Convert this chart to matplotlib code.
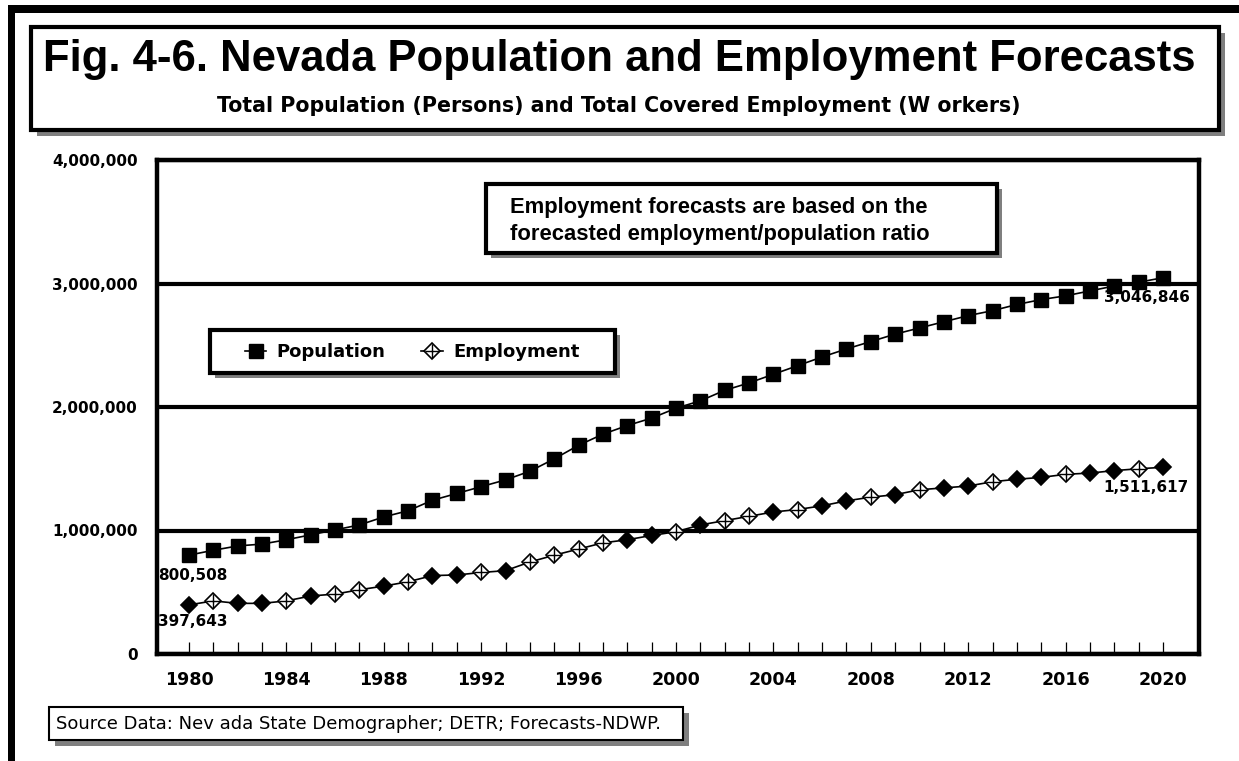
import matplotlib
matplotlib.use('Agg')
import matplotlib.pyplot as plt
from matplotlib.patches import Rectangle
from matplotlib.lines import Line2D
from matplotlib.legend_handler import HandlerTuple

W, H = 1239, 761

years = list(range(1980, 2021))
population = [800508, 840000, 875000, 890000, 925000, 965000, 1005000, 1045000,
              1110000, 1160000, 1245000, 1300000, 1355000, 1410000, 1480000,
              1580000, 1690000, 1780000, 1850000, 1910000, 1990000, 2050000,
              2135000, 2195000, 2265000, 2335000, 2405000, 2470000, 2530000,
              2590000, 2640000, 2690000, 2740000, 2780000, 2830000, 2870000,
              2900000, 2940000, 2980000, 3010000, 3046846]
employment = [397643, 430000, 410000, 410000, 430000, 470000, 485000, 520000,
              550000, 585000, 635000, 640000, 660000, 675000, 745000, 800000,
              850000, 900000, 925000, 960000, 990000, 1045000, 1080000, 1115000,
              1150000, 1170000, 1200000, 1240000, 1270000, 1290000, 1330000,
              1345000, 1360000, 1395000, 1415000, 1430000, 1455000, 1465000,
              1485000, 1500000, 1511617]
# employment markers printed solid (1) or open with a cross (0)
emp_solid = [1, 0, 1, 1, 0, 1, 0, 0, 1, 0, 1, 1, 0, 1, 0, 0, 0, 0, 1, 1, 0,
             1, 0, 0, 1, 0, 1, 1, 0, 1, 0, 1, 1, 0, 1, 1, 0, 1, 1, 0, 1]
year_labels = years[::4]
y_ticks = [0, 1000000, 2000000, 3000000, 4000000]


def fx(x):
    return x / W


def fy(y):
    return 1 - y / H


fig = plt.figure(figsize=(W / 100, H / 100), dpi=100)


def box(x0, y0, x1, y1, lw, off=6, parent=None, z=1):
    # white box with a grey drop shadow, given in pixel corners
    parent = parent or fig
    w, h = (x1 - x0) / W, (y1 - y0) / H
    sh = Rectangle((fx(x0 + off), fy(y1 + off)), w, h, transform=fig.transFigure,
                   facecolor='#7f7f7f', edgecolor='none', zorder=z, clip_on=False)
    fr = Rectangle((fx(x0), fy(y1)), w, h, transform=fig.transFigure,
                   facecolor='white', edgecolor='black', lw=lw, zorder=z + 0.1,
                   clip_on=False)
    parent.add_artist(sh)
    parent.add_artist(fr)


# black frame on top and left
fig.add_artist(Rectangle((fx(8), fy(13)), 1 - fx(8), 8 / H, transform=fig.transFigure,
                         facecolor='black', edgecolor='none'))
fig.add_artist(Rectangle((fx(8), 0), 7 / W, fy(5), transform=fig.transFigure,
                         facecolor='black', edgecolor='none'))

# title block
box(31, 27, 1219, 130, lw=3)
fig.text(fx(619), fy(71), 'Fig. 4-6. Nevada Population and Employment Forecasts',
         family='Liberation Sans', fontweight='bold', fontsize=31.4,
         ha='center', va='baseline')
fig.text(fx(619), fy(112), 'Total Population (Persons) and Total Covered Employment (W orkers)',
         fontweight='bold', fontsize=14.8, ha='center', va='baseline')

ax = fig.add_axes([fx(157), fy(654), (1199 - 157) / W, (654 - 160) / H])

ax.plot(years, population, color='black', lw=1.2, marker='s', ms=10.5,
        mfc='black', mec='black', zorder=3)
ax.plot(years, employment, color='black', lw=1.2, zorder=3)
sx = [y for y, s in zip(years, emp_solid) if s]
sy = [e for e, s in zip(employment, emp_solid) if s]
ox = [y for y, s in zip(years, emp_solid) if not s]
oy = [e for e, s in zip(employment, emp_solid) if not s]
ax.plot(sx, sy, ls='none', marker='D', ms=7.7, mfc='black', mec='black', mew=1.2, zorder=4)
ax.plot(ox, oy, ls='none', marker='D', ms=7.7, mfc='white', mec='black', mew=1.2, zorder=4)
ax.plot(ox, oy, ls='none', marker='+', ms=10, color='black', mew=1, zorder=5)

ax.set_xlim(1978.686, 2021.478)
ax.set_ylim(0, 4000000)
ax.set_xticks(year_labels)
ax.set_xticks(years, minor=True)
ax.set_xticklabels([str(y) for y in year_labels], fontweight='bold', fontsize=12.6)
ax.tick_params(axis='x', which='both', direction='in', length=8.6, width=0.9,
               color='black', pad=12)
ax.set_yticks(y_ticks)
ax.set_yticklabels(['{:,}'.format(v) for v in y_ticks], fontweight='bold', fontsize=11)
ax.tick_params(axis='y', length=0, pad=14)
ax.yaxis.grid(True, color='black', lw=3)
for sp in ax.spines.values():
    sp.set_linewidth(3.2)

# end-point value labels
ax.annotate(f'{population[0]:,}', xy=(years[0], population[0]), xytext=(-31, -20),
            textcoords='offset pixels', ha='left', va='center', fontsize=11, fontweight='bold')
ax.annotate(f'{employment[0]:,}', xy=(years[0], employment[0]), xytext=(-31, -17),
            textcoords='offset pixels', ha='left', va='center', fontsize=11, fontweight='bold')
ax.annotate(f'{population[-1]:,}', xy=(years[-1], population[-1]), xytext=(27, -20),
            textcoords='offset pixels', ha='right', va='center', fontsize=11, fontweight='bold')
ax.annotate(f'{employment[-1]:,}', xy=(years[-1], employment[-1]), xytext=(26, -20),
            textcoords='offset pixels', ha='right', va='center', fontsize=11, fontweight='bold')

# note box
box(486, 184, 997, 253, lw=3, off=5)
fig.text(fx(510), fy(213), 'Employment forecasts are based on the',
         family='Liberation Sans', fontweight='bold', fontsize=15.8, va='baseline')
fig.text(fx(510), fy(240), 'forecasted employment/population ratio',
         family='Liberation Sans', fontweight='bold', fontsize=15.8, va='baseline')

# legend
box(210, 330, 615, 373, lw=3, off=5, parent=ax, z=6)
h_pop = Line2D([], [], color='black', lw=1.2, marker='s', ms=10.5, mfc='black', mec='black')
h_emp = (Line2D([], [], color='black', lw=1.2, marker='D', ms=7.7, mfc='white',
                mec='black', mew=1.2),
         Line2D([], [], ls='none', marker='+', ms=10, color='black', mew=1))
leg = ax.legend([h_pop, h_emp], ['Population', 'Employment'],
                handler_map={tuple: HandlerTuple(ndivide=1)},
                loc='center', bbox_to_anchor=(fx(412), fy(352)),
                bbox_transform=fig.transFigure, frameon=False, ncol=2,
                prop={'weight': 'bold', 'size': 13}, handlelength=1.2,
                handletextpad=0.55, columnspacing=2.0, borderpad=0)
leg.set_zorder(8)

# source note
box(49, 707, 683, 740, lw=1.5, off=6)
fig.text(fx(56), fy(729), 'Source Data: Nev ada State Demographer; DETR; Forecasts-NDWP.',
         fontsize=13, va='baseline')

fig.savefig('out.png', dpi=100)
